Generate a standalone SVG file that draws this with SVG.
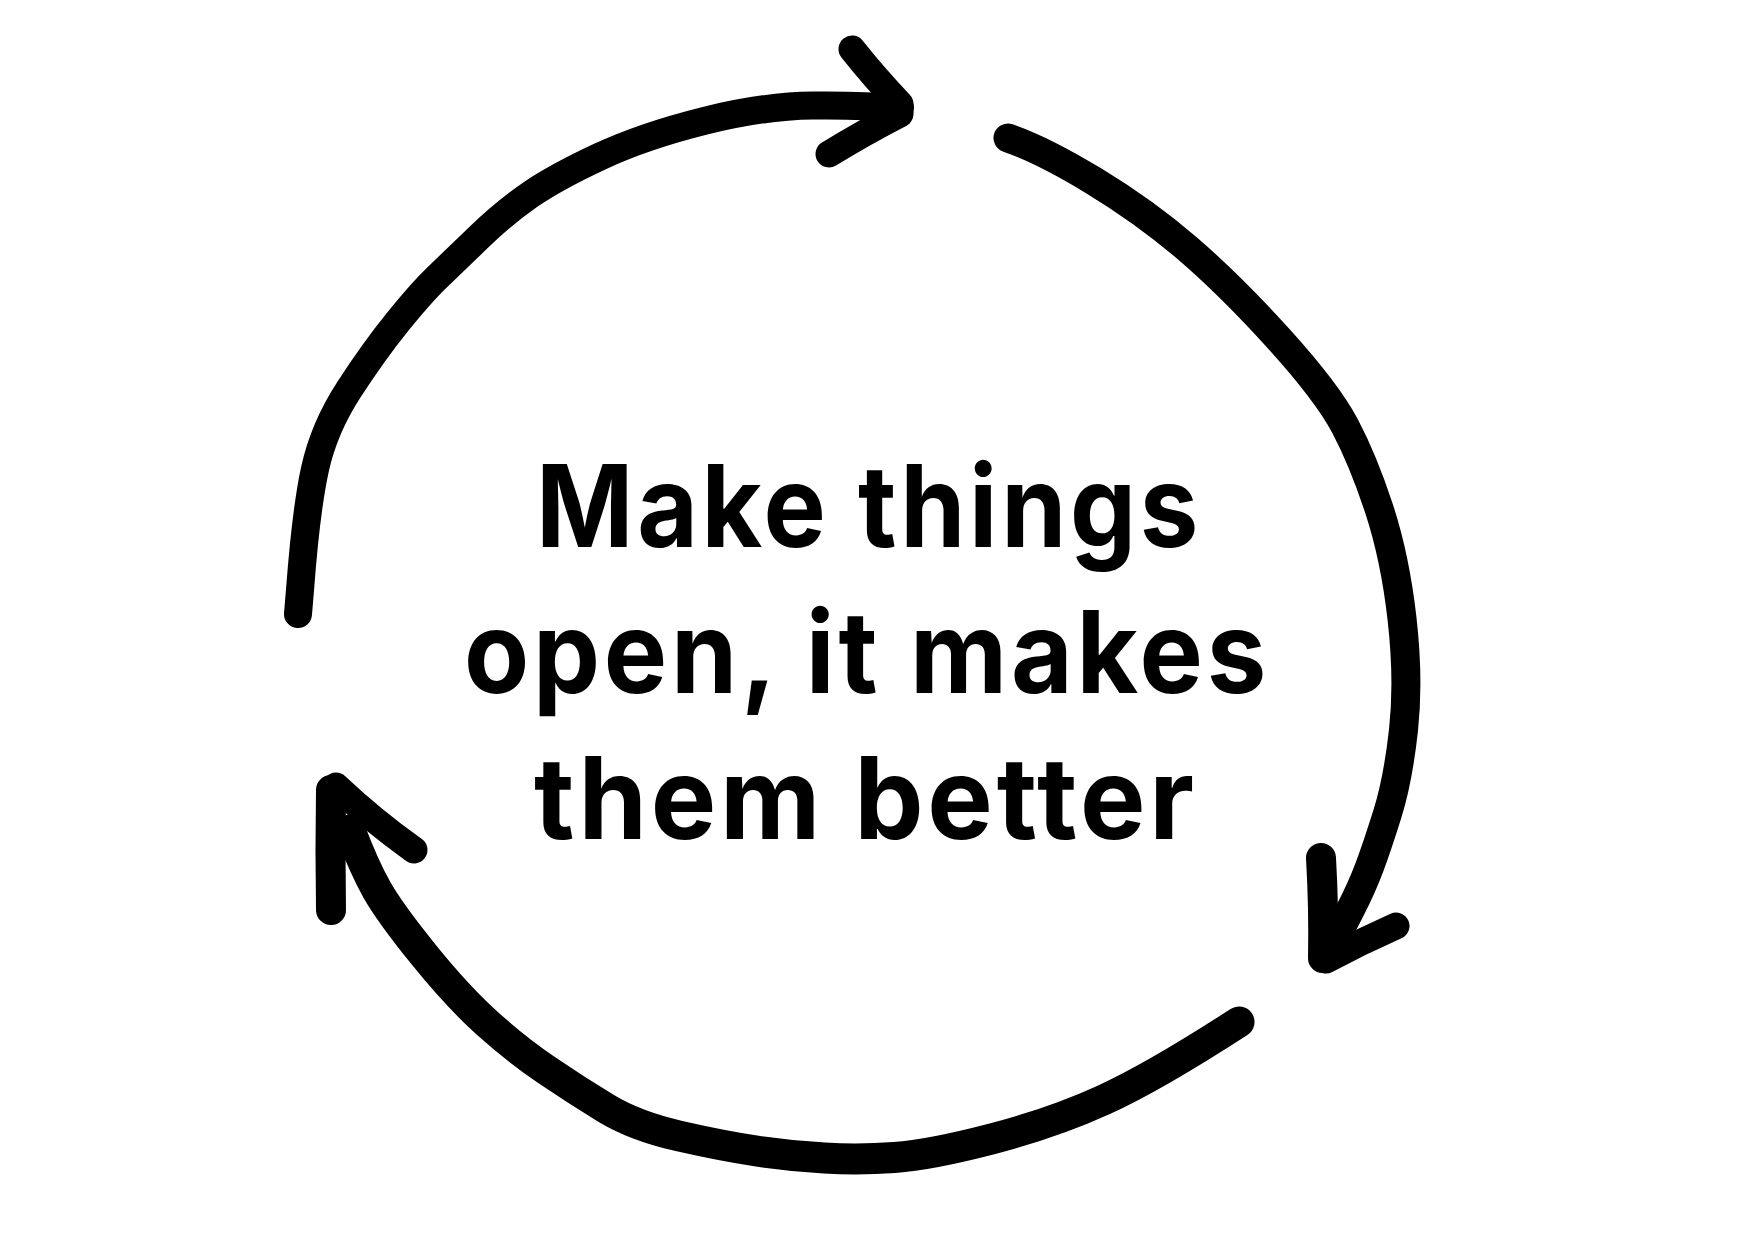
<svg xmlns="http://www.w3.org/2000/svg" width="1750" height="1242" viewBox="0 0 1750 1242">
<style>
.brush{fill:none;stroke:#000;stroke-linecap:round;stroke-linejoin:round}
.t{font-family:Inter,"Open Sans","Liberation Sans",sans-serif;font-weight:700;font-size:114px;letter-spacing:4px;fill:#000;text-anchor:middle;font-variant-ligatures:none;font-feature-settings:"liga" 0,"calt" 0}
</style>
<rect width="1750" height="1242" fill="#fff"/>
<g id="connectors">
  <g id="arrow-top">
    <path class="brush" stroke-width="28" d="M298,614 L300,590 Q306,510 315,469 Q324,428 349,389.5 Q374,351 397.5,322 Q421,293 436.5,278 Q452,263 478.5,237.5 Q505,212 530.5,194.5 Q556,177 600,156.5 Q644,136 704,121 Q764,106 813,105.5 Q862,105 900,108"/>
    <path class="brush" stroke-width="27" d="M852,49 Q875,78 900,104"/>
    <path class="brush" stroke-width="27" d="M900,114 Q865,132 829,154"/>
  </g>
  <g id="arrow-right">
    <path class="brush" stroke-width="29" d="M1008,138 Q1043,150 1094,181 Q1145,212 1187.5,248.5 Q1230,285 1278.5,338.5 Q1327,392 1345,426 Q1363,460 1379,508.5 Q1395,557 1402,618.5 Q1409,680 1403.5,730 Q1398,780 1387.5,813.5 Q1377,847 1369.5,867 Q1362,887 1351,908.5 Q1340,930 1326,958"/>
    <path class="brush" stroke-width="30" d="M1321,858 Q1324,910 1323,958"/>
    <path class="brush" stroke-width="27" d="M1326,960 Q1360,942 1396,926"/>
  </g>
  <g id="arrow-bottom">
    <path class="brush" stroke-width="31" d="M1239,1022 Q1154,1077 1103.5,1100 Q1053,1123 991.5,1139 Q930,1155 894.5,1157.5 Q859,1160 824.5,1158 Q790,1156 756.5,1151 Q723,1146 679,1136 Q635,1126 605.5,1108 Q576,1090 546.5,1070 Q517,1050 487.5,1023.5 Q458,997 424,955 Q390,913 377,890 Q364,867 350,830"/>
    <path class="brush" stroke-width="30" d="M331,790 Q330,850 331,910"/>
    <path class="brush" stroke-width="27" d="M336,786 Q372,820 414,850"/>
  </g>
</g>
<g id="node-label">
  <text class="t" x="869" y="547" textLength="666" lengthAdjust="spacingAndGlyphs">Make things</text>
  <text class="t" x="867" y="693" textLength="806" lengthAdjust="spacingAndGlyphs">open, it makes</text>
  <text class="t" x="866" y="839" textLength="664" lengthAdjust="spacingAndGlyphs">them better</text>
</g>
</svg>
